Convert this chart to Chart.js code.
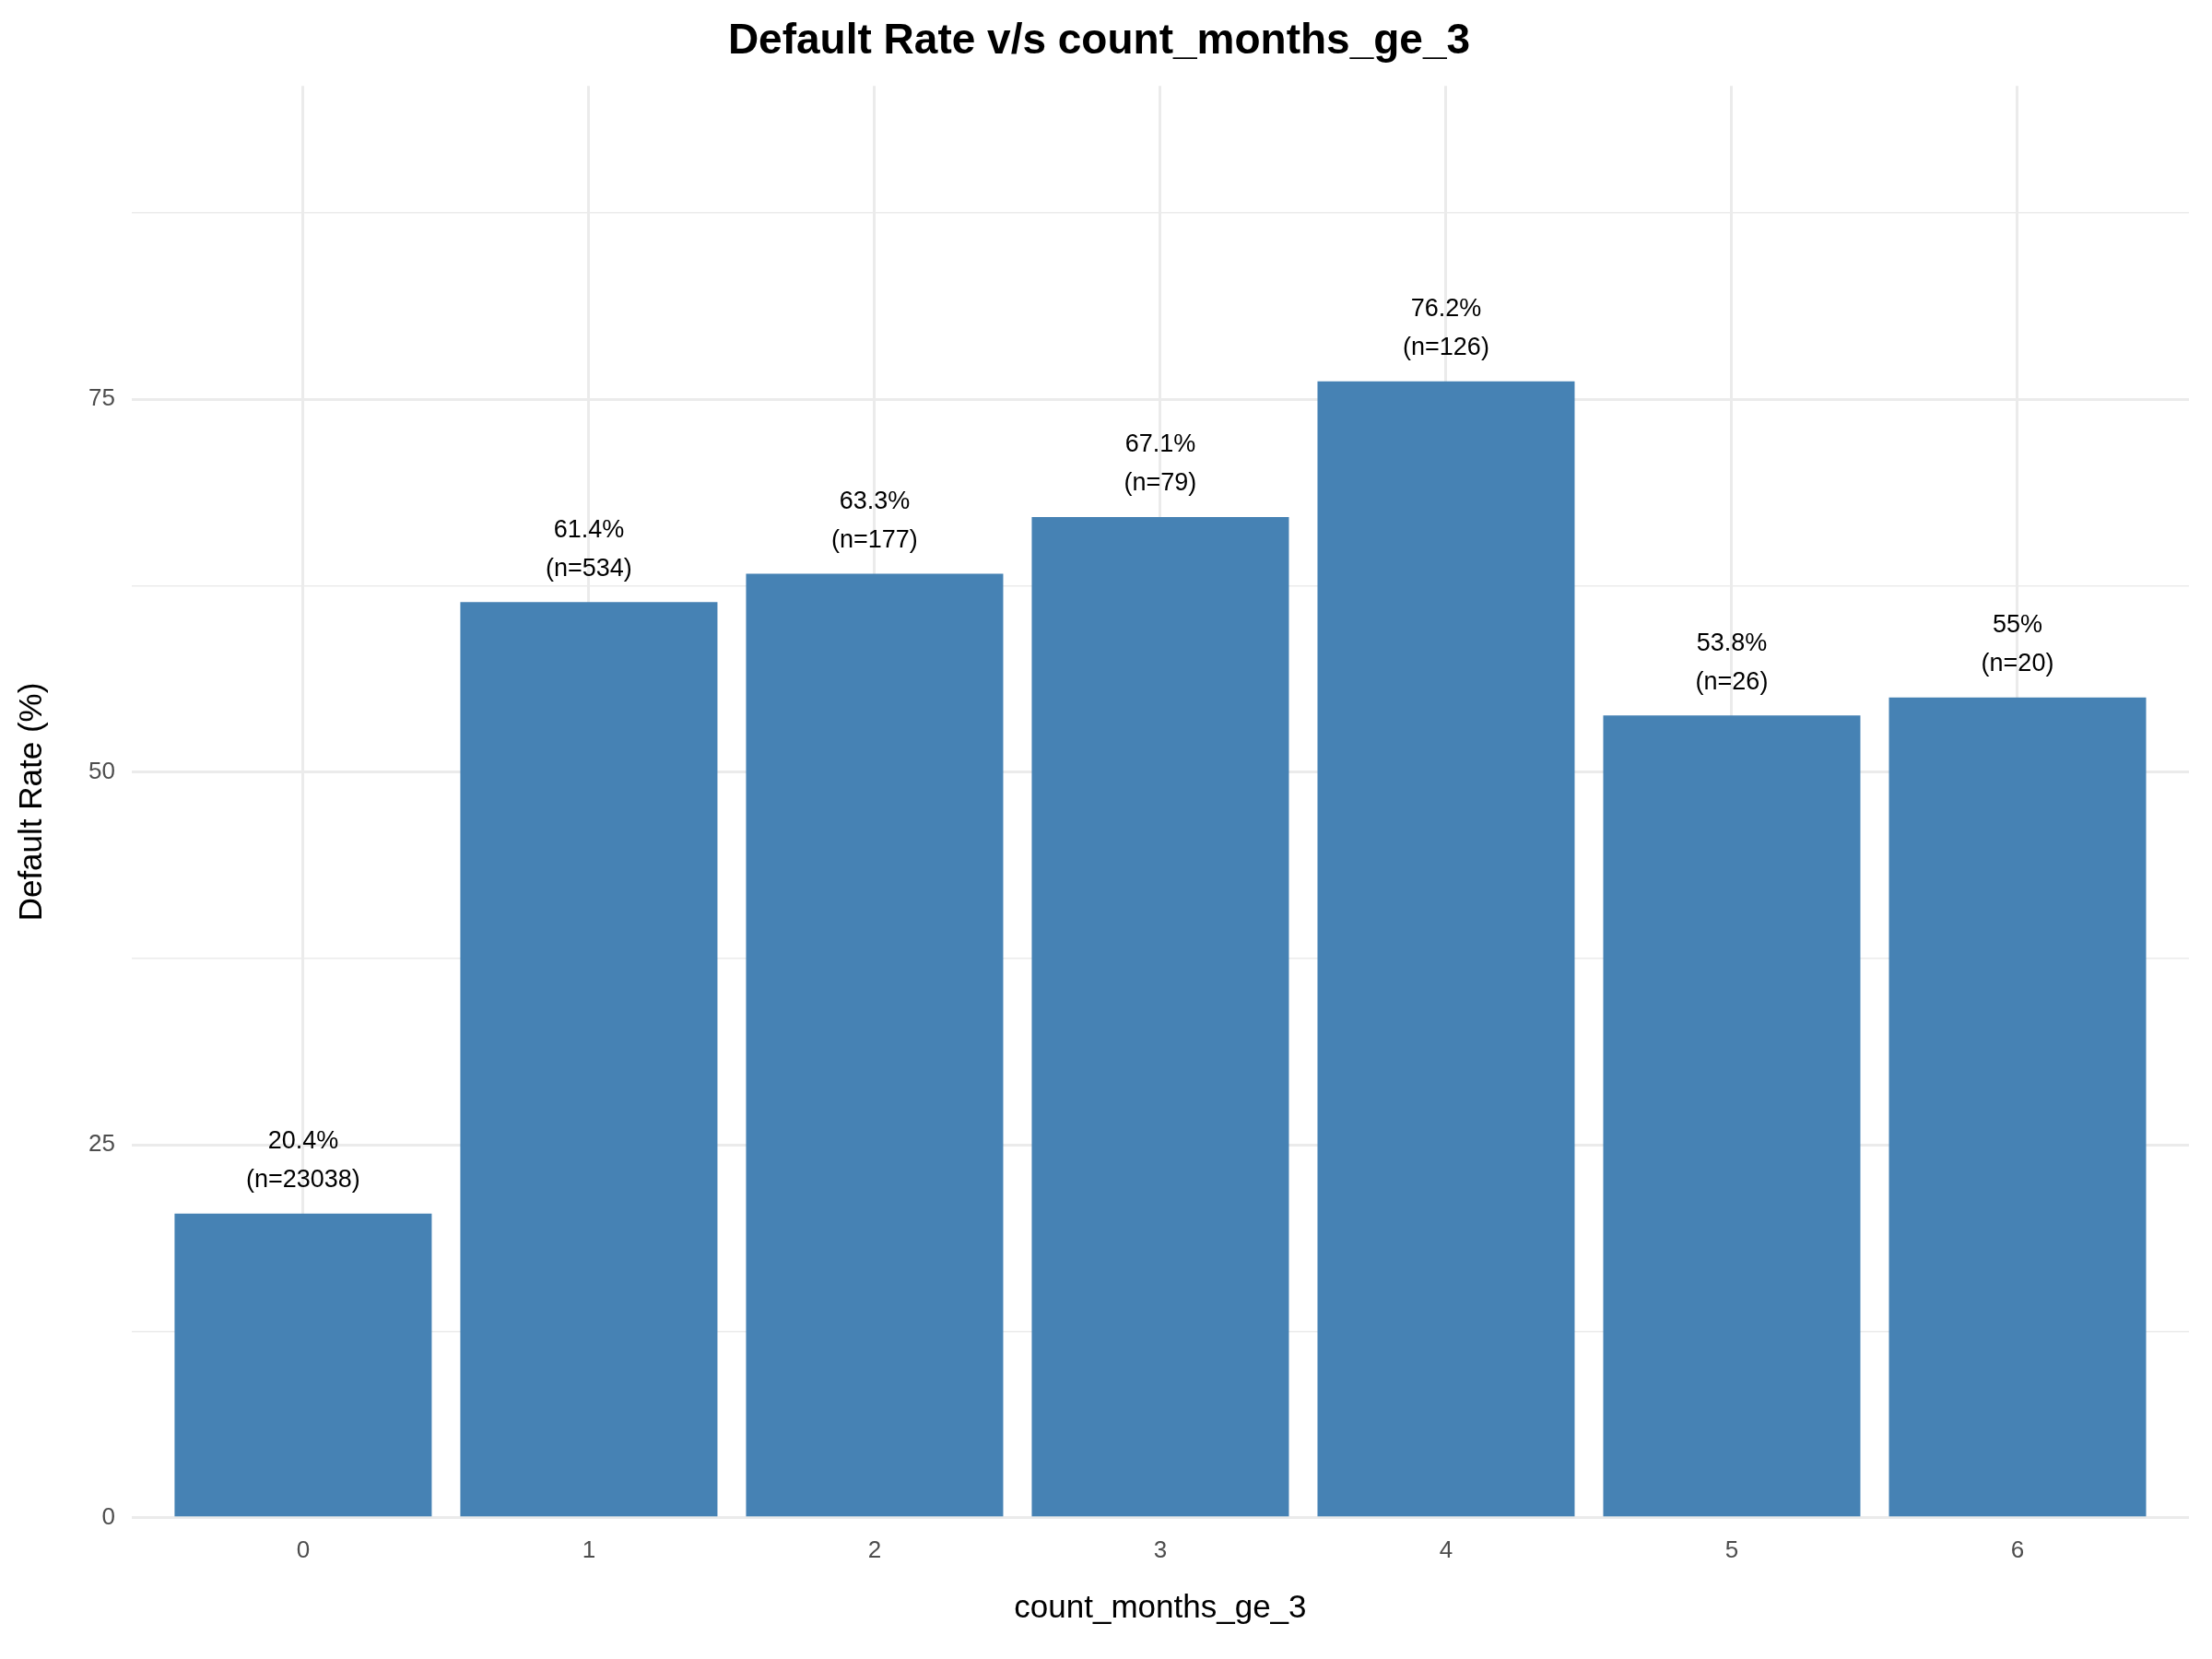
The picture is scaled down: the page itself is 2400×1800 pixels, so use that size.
<!DOCTYPE html>
<html><head><meta charset="utf-8">
<script src="https://cdn.jsdelivr.net/npm/chart.js@4/dist/chart.umd.min.js"></script>
<style>body{margin:0;background:#fff}#wrap{width:2400px;height:1800px}</style>
</head><body><div id="wrap"><canvas id="c"></canvas></div>
<script>
const categories = [0, 1, 2, 3, 4, 5, 6];
const defaultRates = [20.4, 61.4, 63.3, 67.1, 76.2, 53.8, 55];
const counts = [23038, 534, 177, 79, 126, 26, 20];
const yTicks = [0, 25, 50, 75];

const font = "'Liberation Sans', Arial, sans-serif";

// labels above each bar
const barLabels = {
  id: 'barLabels',
  afterDatasetsDraw(chart) {
    const ctx = chart.ctx;
    const meta = chart.getDatasetMeta(0);
    ctx.save();
    ctx.fillStyle = '#000';
    ctx.font = '27px ' + font;
    ctx.textAlign = 'center';
    ctx.textBaseline = 'middle';
    meta.data.forEach((bar, i) => {
      ctx.fillText(defaultRates[i] + '%', bar.x, bar.y - 78);
      ctx.fillText('(n=' + counts[i] + ')', bar.x, bar.y - 36);
    });
    ctx.restore();
  }
};

new Chart(document.getElementById('c'), {
  type: 'bar',
  data: {
    datasets: [{
      data: categories.map((c, i) => ({ x: c, y: defaultRates[i] })),
      backgroundColor: '#4682B4',
      categoryPercentage: 0.9,
      barPercentage: 1
    }]
  },
  plugins: [barLabels],
  options: {
    responsive: true,
    maintainAspectRatio: false,
    devicePixelRatio: 1,
    animation: false,
    layout: { padding: { top: 10, right: 25, left: 10, bottom: 30 } },
    plugins: {
      legend: { display: false },
      tooltip: { enabled: false },
      title: {
        display: true, text: 'Default Rate v/s count_months_ge_3',
        color: '#000', font: { family: font, size: 46, weight: 'bold' },
        padding: { top: 8, bottom: 20 }
      }
    },
    scales: {
      x: {
        type: 'linear', min: -0.6, max: 6.6, offset: false,
        afterBuildTicks: ax => { ax.ticks = categories.map(v => ({ value: v })); },
        grid: { color: '#EBEBEB', lineWidth: 3, drawTicks: false, offset: false },
        border: { display: false },
        ticks: { color: '#4D4D4D', font: { family: font, size: 26 }, padding: 20 },
        title: { display: true, text: 'count_months_ge_3', color: '#000', font: { family: font, size: 35 }, padding: { top: 6 } }
      },
      y: {
        min: 0, max: 96,
        afterBuildTicks: ax => {
          const t = [];
          for (let v = 0; v <= 87.5; v += 12.5) t.push({ value: v });
          ax.ticks = t;
        },
        grid: {
          color: '#EBEBEB', drawTicks: false,
          lineWidth: c => (yTicks.includes(c.tick.value) ? 3 : 1.5)
        },
        border: { display: false },
        ticks: {
          color: '#4D4D4D', font: { family: font, size: 26 }, padding: 18,
          callback: v => (yTicks.includes(v) ? v : '')
        },
        title: { display: true, text: 'Default Rate (%)', color: '#000', font: { family: font, size: 35 }, padding: { bottom: 22 } }
      }
    }
  }
});
</script></body></html>
